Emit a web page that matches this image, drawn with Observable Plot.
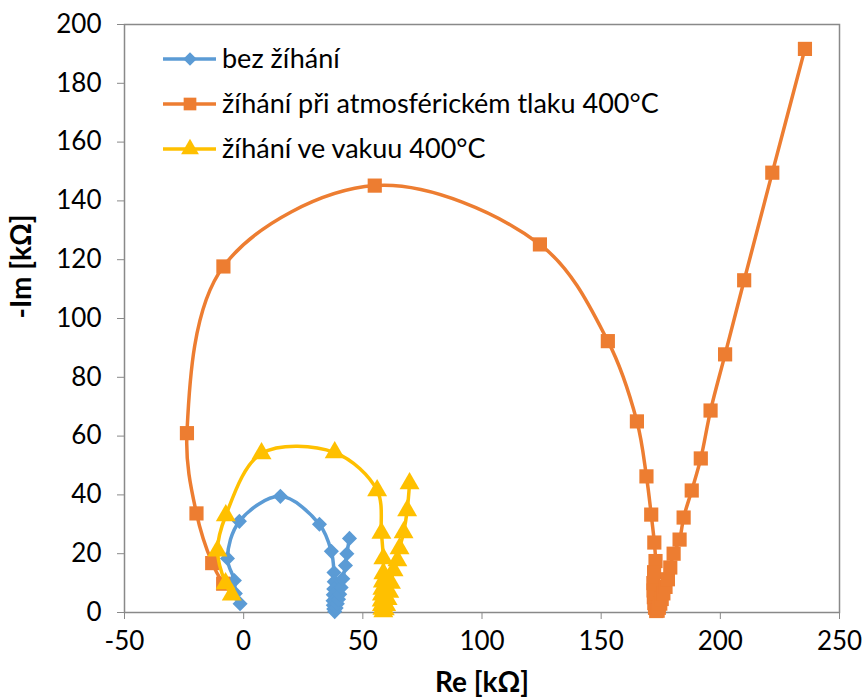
<!DOCTYPE html>
<html>
<head>
<meta charset="utf-8">
<script src="https://cdn.jsdelivr.net/npm/d3@7"></script>
<script src="https://cdn.jsdelivr.net/npm/@observablehq/plot@0.6"></script>
<style>
  html, body { margin: 0; padding: 0; background: white; }
  #chart { width: 863px; height: 697px; }
</style>
</head>
<body>
<div id="chart"></div>
<script>
// ---- data ----
const seriesNames = ["bez žíhání", "žíhání při atmosférickém tlaku 400°C", "žíhání ve vakuu 400°C"];
const seriesColors = ["#5B9BD5", "#ED7D31", "#FFC000"];
const seriesSymbols = ["diamond2", "square", "triangle"];

const blueRe = [-1.5, -3.5, -3.9, -6.8, -1.8, 15.4, 31.8, 36.8, 37.9, 38.0, 37.8, 37.6, 37.5, 37.6, 37.8, 38.2, 38.8, 39.3, 39.8, 40.3, 40.9, 41.6, 42.7, 43.3, 44.4];
const blueIm = [3, 6.5, 10.9, 18.4, 31, 39.5, 30, 20.8, 13.6, 10.5, 8, 6, 4, 2.5, 1.2, 0.3, 1.5, 3, 4.5, 6.2, 8.5, 11.5, 16, 20, 25.2];

const orangeRe = [-8.6, -13.2, -19.8, -23.8, -8.5, 55, 124.3, 152.8, 165, 169, 171, 172.3, 172.8, 172.2, 171.9, 172, 172.1, 172.3, 172.6, 173.1, 173.7, 174.2, 174.8, 175.4, 176.1, 177, 178, 179, 180.4, 182.9, 184.6, 188, 191.8, 195.9, 202, 210, 221.8, 235.5];
const orangeIm = [9.8, 16.8, 33.7, 61, 117.7, 145.2, 125.2, 92.3, 65, 46.3, 33.3, 23.8, 17.5, 13.7, 10, 7.5, 5.2, 3.2, 1.6, 0.5, 0.6, 1.6, 3, 4.6, 6.5, 8.7, 11.3, 15.3, 20, 24.8, 32.3, 41.5, 52.4, 68.7, 87.8, 113, 149.6, 191.7];

const yellowRe = [-5, -7.6, -11, -7.5, 7.5, 38.2, 56, 57.8, 58.6, 58.6, 58.4, 58.2, 58.0, 57.9, 58.0, 58.2, 58.6, 59.2, 59.8, 60.4, 61.1, 61.8, 62.9, 64.5, 65.4, 67.1, 68.6, 69.6];
const yellowIm = [6, 9.9, 21, 33, 54.1, 54.4, 41.5, 27, 18.4, 13.3, 10.5, 8, 6, 4, 2.5, 1.2, 0.3, 1, 2.5, 4.5, 7, 10, 14.3, 17.7, 21.8, 27.2, 34.7, 43.9];

const xTicks = [-50, 0, 50, 100, 150, 200, 250];
const yTicks = [0, 20, 40, 60, 80, 100, 120, 140, 160, 180, 200];
const xTitle = "Re [kΩ]";
const yTitle = "-Im [kΩ]";

// ---- build tables ----
const toRows = (re, im) => re.map((r, i) => ({re: r, im: im[i]}));
const series = [toRows(blueRe, blueIm), toRows(orangeRe, orangeIm), toRows(yellowRe, yellowIm)];
const radii = [6.8, 8, 7.4];

const marks = [
  Plot.frame({stroke: "#898989", strokeWidth: 1.5}),
  Plot.axisX({ticks: xTicks, tickSize: 7, tickPadding: 12, stroke: "#898989", fill: "black", label: null, tickFormat: d => d}),
  Plot.axisY({ticks: yTicks, tickSize: 7, tickPadding: 16, stroke: "#898989", fill: "black", label: null, tickFormat: d => d}),
  Plot.text([xTitle], {frameAnchor: "bottom", dy: 71, fontWeight: "bold", fontSize: 28, lineAnchor: "middle", fill: "black"}),
  Plot.text([yTitle], {frameAnchor: "left", dx: -102, rotate: -90, fontWeight: "bold", fontSize: 28, lineAnchor: "middle", fill: "black"})
];
series.forEach((rows, i) => {
  marks.push(Plot.line(rows, {x: "re", y: "im", stroke: seriesColors[i], strokeWidth: 3.5, curve: "catmull-rom"}));
  marks.push(Plot.dot(rows, {x: "re", y: "im", symbol: seriesSymbols[i], fill: seriesColors[i], r: radii[i], stroke: "none"}));
});

const chart = Plot.plot({
  width: 863,
  height: 697,
  marginLeft: 124,
  marginRight: 24,
  marginTop: 24,
  marginBottom: 85,
  x: {domain: [-50, 250]},
  y: {domain: [0, 200]},
  style: {fontFamily: "Lato, 'Open Sans', sans-serif", fontSize: "26px", color: "black", background: "white", overflow: "visible"},
  marks
});

// ---- legend (inside the plot, top-left) ----
const svg = d3.select(chart);
const lg = svg.append("g").attr("font-family", "Lato, 'Open Sans', sans-serif").attr("font-size", 27).attr("text-anchor", "start");
const symMap = {diamond2: d3.symbolDiamond2, square: d3.symbolSquare, triangle: d3.symbolTriangle};
const rowY = [59, 104, 149];
seriesNames.forEach((name, i) => {
  const g = lg.append("g").attr("transform", `translate(0,${rowY[i]})`);
  g.append("line").attr("x1", 163).attr("x2", 216).attr("y1", 0).attr("y2", 0)
    .attr("stroke", seriesColors[i]).attr("stroke-width", 3.5);
  g.append("path").attr("transform", "translate(190,0)")
    .attr("d", d3.symbol(symMap[seriesSymbols[i]], Math.PI * radii[i] * radii[i] * 0.8)())
    .attr("fill", seriesColors[i]);
  g.append("text").attr("x", 222).attr("y", 0).attr("dy", "0.35em").attr("text-anchor", "start").attr("fill", "black").text(name);
});

document.getElementById("chart").appendChild(chart);
</script>
</body>
</html>
